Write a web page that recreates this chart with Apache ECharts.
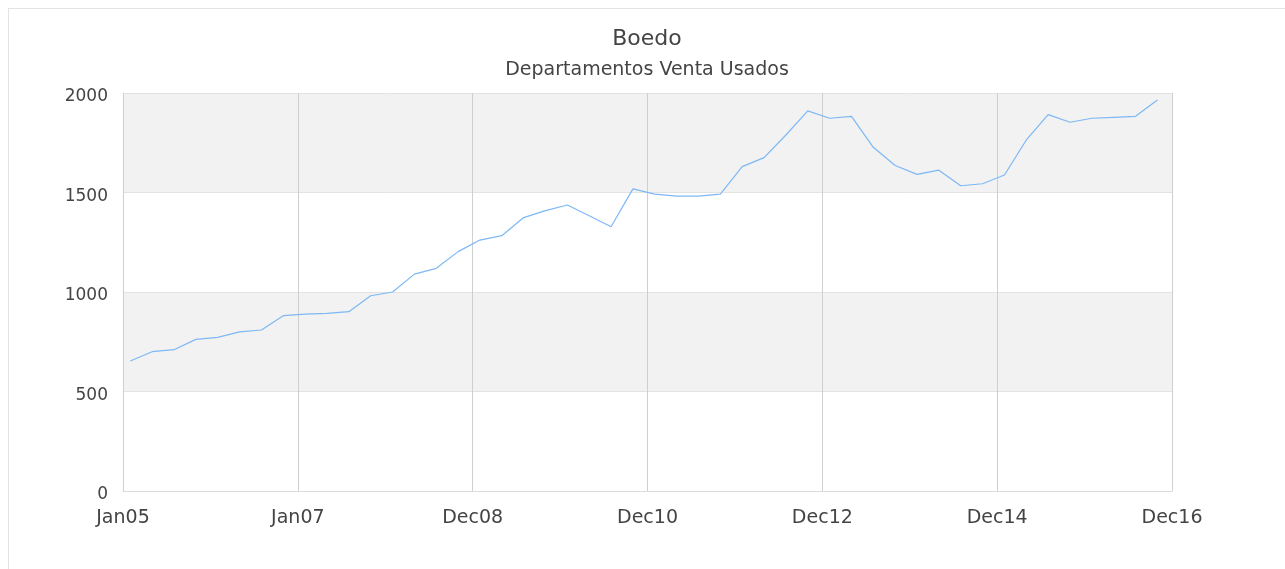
<!DOCTYPE html>
<html>
<head>
<meta charset="utf-8">
<title>Boedo</title>
<script src="https://cdn.jsdelivr.net/npm/echarts@6/dist/echarts.min.js"></script>
<style>
  html, body { margin: 0; padding: 0; background: #fff; }
  #main { position: absolute; left: 0; top: 0; width: 1285px; height: 569px; }
  #frame { position: absolute; left: 8px; top: 8px; width: 1300px; height: 600px;
           border: 1px solid #e3e3e3; pointer-events: none; }
</style>
</head>
<body>
<div id="main"></div>
<div id="frame"></div>
<script>
// trimestres (mes de la muestra), desde Feb05 hasta Nov16
var periodos = [
  'Feb05','May05','Ago05','Nov05','Feb06','May06','Ago06','Nov06',
  'Feb07','May07','Ago07','Nov07','Feb08','May08','Ago08','Nov08',
  'Feb09','May09','Ago09','Nov09','Feb10','May10','Ago10','Nov10',
  'Feb11','May11','Ago11','Nov11','Feb12','May12','Ago12','Nov12',
  'Feb13','May13','Ago13','Nov13','Feb14','May14','Ago14','Nov14',
  'Feb15','May15','Ago15','Nov15','Feb16','May16','Ago16','Nov16'
];
// precio USD/m2
var valores = [
  653, 700, 710, 762, 772, 800, 809, 881,
  889, 893, 901, 981, 1000, 1090, 1119, 1203,
  1261, 1283, 1374, 1409, 1437, 1383, 1328, 1518,
  1492, 1482, 1482, 1492, 1630, 1675, 1789, 1910,
  1873, 1883, 1727, 1636, 1591, 1612, 1534, 1544,
  1588, 1764, 1891, 1853, 1873, 1878, 1883, 1965
];
var etiquetasX = ['Jan05', 'Jan07', 'Dec08', 'Dec10', 'Dec12', 'Dec14', 'Dec16'];

var meses = { Feb: 1, May: 4, Ago: 7, Nov: 10 };
// meses transcurridos desde Jan05
function mesDesdeInicio(p) {
  return meses[p.slice(0, 3)] + (parseInt(p.slice(3), 10) - 5) * 12;
}
var datos = [];
for (var i = 0; i < periodos.length; i++) {
  datos.push([mesDesdeInicio(periodos[i]), valores[i]]);
}

var myChart = echarts.init(document.getElementById('main'));
var option = {
  animation: false,
  backgroundColor: '#fff',
  title: {
    text: 'Boedo',
    subtext: 'Departamentos Venta Usados',
    left: 642,
    textAlign: 'center',
    top: 23,
    itemGap: 11,
    textStyle: { fontFamily: 'DejaVu Sans', fontSize: 22, fontWeight: 'normal', color: '#444' },
    subtextStyle: { fontFamily: 'DejaVu Sans', fontSize: 19, color: '#444' }
  },
  grid: { left: 123, right: 113, top: 93, bottom: 78 },
  xAxis: {
    type: 'value',
    min: 0,
    max: 144,
    interval: 24,
    axisLine: { show: true, lineStyle: { color: '#dcdcdc' } },
    axisTick: { show: false },
    axisLabel: {
      margin: 18,
      fontFamily: 'DejaVu Sans',
      fontSize: 19,
      color: '#444',
      formatter: function (v) { return etiquetasX[Math.round(v / 24)]; }
    },
    splitLine: { show: true, lineStyle: { color: '#cfcfcf' } }
  },
  yAxis: {
    type: 'value',
    min: 0,
    max: 2000,
    interval: 500,
    axisLine: { show: false },
    axisTick: { show: false },
    axisLabel: {
      margin: 15,
      fontFamily: 'DejaVu Sans',
      fontSize: 17,
      color: '#444',
      verticalAlign: 'top',
      lineHeight: 8,
      formatter: function (v) { return String(v); }
    },
    splitLine: { show: true, lineStyle: { color: '#e3e3e3' } },
    splitArea: { show: true, areaStyle: { color: ['#ffffff', '#f2f2f2'] } }
  },
  series: [{
    type: 'line',
    data: datos,
    showSymbol: false,
    symbol: 'none',
    lineStyle: { color: '#7db8f5', width: 1.2 }
  }]
};
myChart.setOption(option);
</script>
</body>
</html>
